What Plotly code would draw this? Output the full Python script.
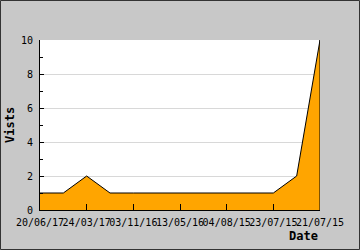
import plotly.graph_objects as go

tick_labels = ["20/06/17", "24/03/17", "03/11/16", "13/05/16", "04/08/15", "23/07/15", "21/07/15"]
visits = [1, 1, 2, 1, 1, 1, 1, 1, 1, 1, 1, 2, 10]
x_idx = list(range(len(visits)))
tick_pos = x_idx[::2]

FONT = "DejaVu Sans Mono"
W, H = 360, 250
L, R, T, B = 40, 40, 40, 40
pw, ph = W - L - R, H - T - B

fig = go.Figure()
fig.add_trace(go.Scatter(
    x=x_idx, y=visits, mode="lines", fill="tozeroy",
    fillcolor="#ffa500", line=dict(color="#000000", width=1),
    hoverinfo="skip", showlegend=False,
))

fig.update_layout(
    width=W, height=H,
    margin=dict(l=L, r=R, t=T, b=B, autoexpand=False),
    paper_bgcolor="#c8c8c8", plot_bgcolor="#ffffff",
    font=dict(family=FONT, size=10, color="#000000"),
    xaxis=dict(
        range=[0, len(visits) - 1], tickmode="array",
        tickvals=tick_pos, ticktext=tick_labels, tickangle=0,
        ticks="inside", ticklen=6, tickcolor="#000000", tickwidth=1,
        showline=True, linecolor="#000000", linewidth=1,
        showgrid=False, zeroline=False, ticklabelstandoff=3,
        automargin=False,
        tickfont=dict(family=FONT, size=10, color="#000000"),
    ),
    yaxis=dict(
        range=[0, 10], dtick=2, tick0=0,
        ticks="inside", ticklen=4, tickcolor="#000000", tickwidth=1,
        showline=True, linecolor="#000000", linewidth=1,
        showgrid=True, gridcolor="#d8d8d8", gridwidth=1,
        zeroline=False, ticklabelstandoff=4, automargin=False,
        minor=dict(dtick=1, ticks="inside", ticklen=3, tickcolor="#000000", showgrid=False),
        tickfont=dict(family=FONT, size=10, color="#000000"),
    ),
    shapes=[
        dict(type="line", xref="x", yref="y", x0=len(visits) - 1, x1=len(visits) - 1,
             y0=0, y1=visits[-1], line=dict(color="#000000", width=1)),
        dict(type="rect", xref="paper", yref="paper",
             x0=-(L - 0.5) / pw, x1=1 + (R - 0.5) / pw,
             y0=-(B - 0.5) / ph, y1=1 + (T - 0.5) / ph,
             line=dict(color="#333333", width=1)),
    ],
    annotations=[
        dict(text="<b>Vists</b>", textangle=-90, xref="paper", yref="paper",
             x=-30 / pw, y=0.5, xanchor="center", yanchor="middle", showarrow=False,
             font=dict(family=FONT, size=12, color="#000000")),
        dict(text="<b>Date</b>", xref="paper", yref="paper",
             x=1, y=-26 / ph, xanchor="right", yanchor="middle", showarrow=False,
             font=dict(family=FONT, size=12, color="#000000")),
    ],
)

fig.write_html("out.html")
